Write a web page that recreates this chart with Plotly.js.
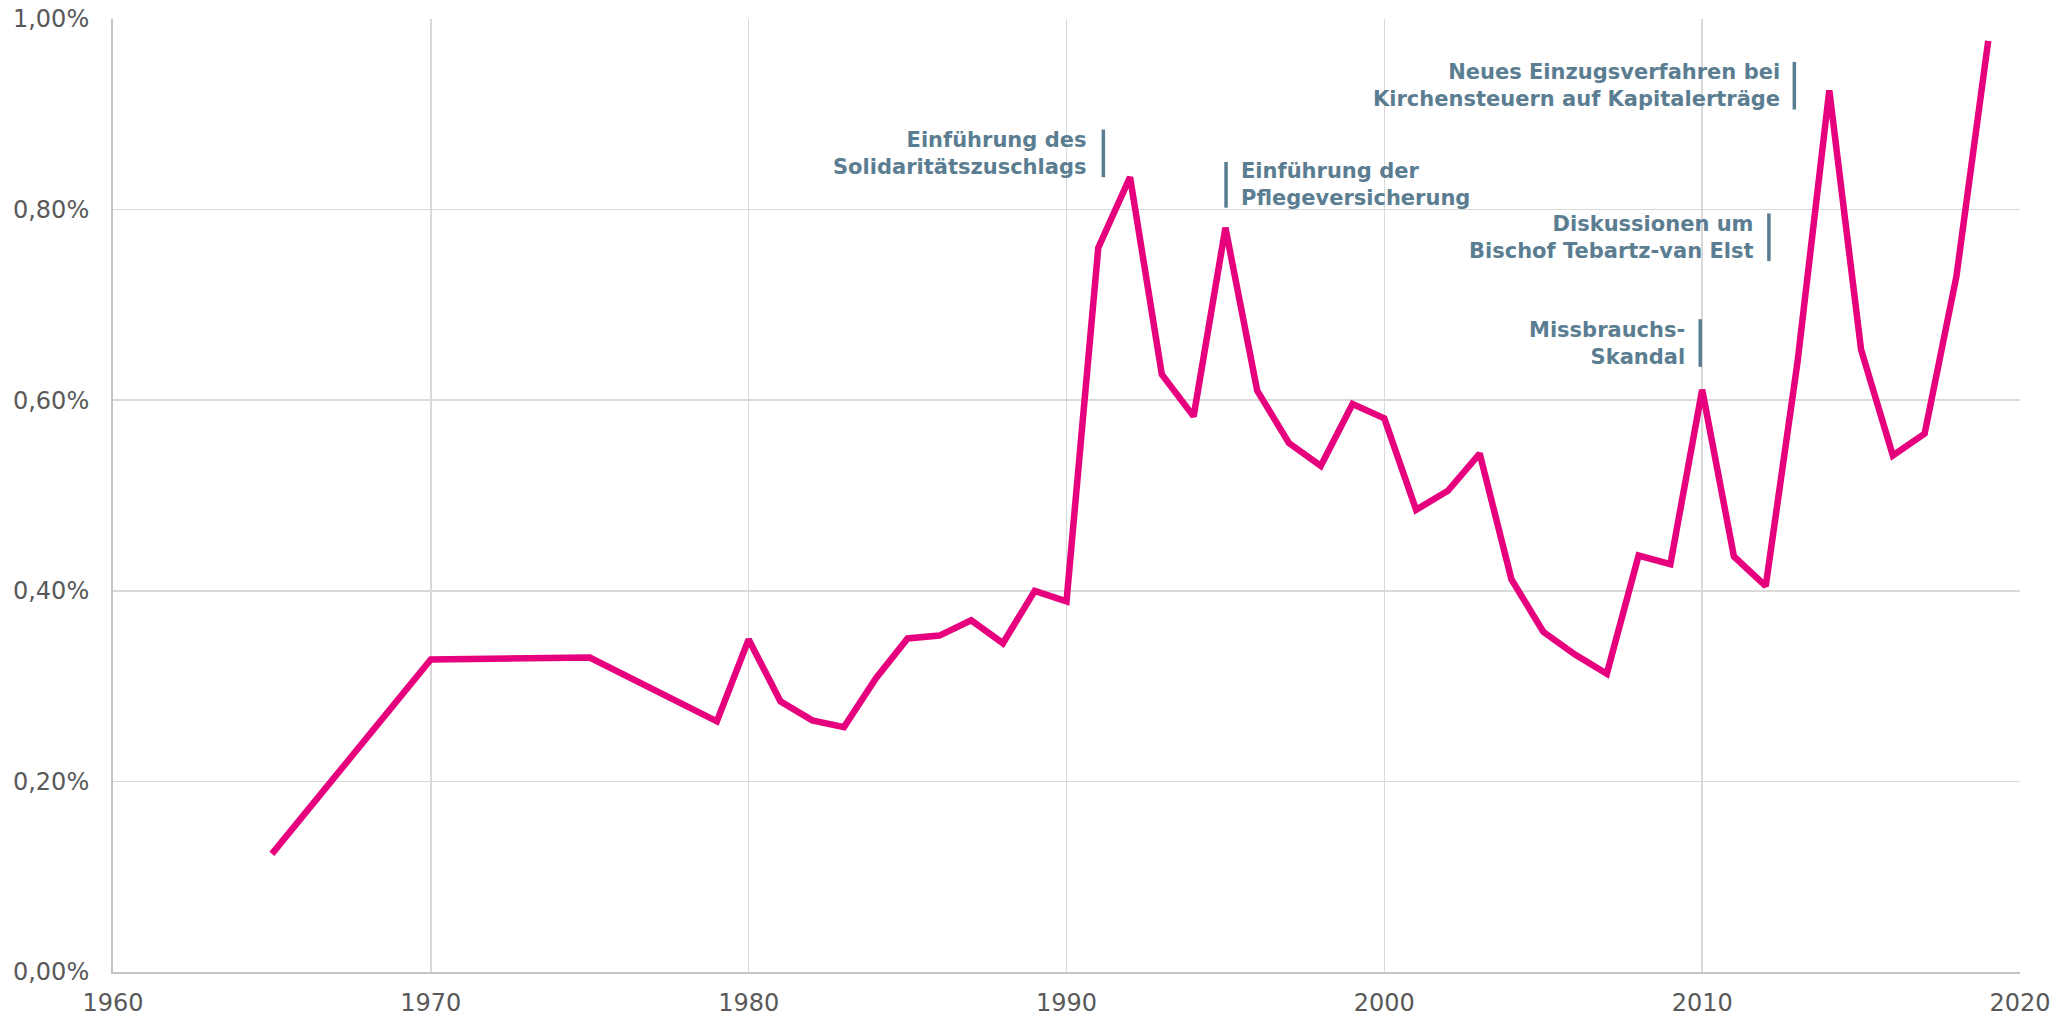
<!DOCTYPE html>
<html>
<head>
<meta charset="utf-8">
<script src="https://cdn.plot.ly/plotly-3.0.1.min.js"></script>
<style>
html,body{margin:0;padding:0;background:#fff;}
#chart{width:2062px;height:1017px;}
</style>
</head>
<body>
<div id="chart"></div>
<script>
// Data (values in percent)
const years = [1965, 1970, 1975, 1979, 1980, 1981, 1982, 1983, 1984, 1985, 1986, 1987, 1988, 1989,
  1990, 1991, 1992, 1993, 1994, 1995, 1996, 1997, 1998, 1999, 2000, 2001, 2002, 2003, 2004,
  2005, 2006, 2007, 2008, 2009, 2010, 2011, 2012, 2013, 2014, 2015, 2016, 2017, 2018, 2019];
const rates = [0.124, 0.328, 0.330, 0.263, 0.349, 0.284, 0.264, 0.257, 0.308, 0.350, 0.353, 0.369, 0.345, 0.400,
  0.389, 0.760, 0.834, 0.627, 0.583, 0.781, 0.610, 0.555, 0.531, 0.596, 0.581, 0.485, 0.505, 0.544, 0.412,
  0.357, 0.333, 0.313, 0.437, 0.428, 0.611, 0.436, 0.405, 0.640, 0.925, 0.653, 0.542, 0.565, 0.730, 0.977];
const xTicks = [1960, 1970, 1980, 1990, 2000, 2010, 2020];
const yTicks = [0, 0.2, 0.4, 0.6, 0.8, 1.0];
const eventTexts = [
  "Einführung des<br>Solidaritätszuschlags",
  "Einführung der<br>Pflegeversicherung",
  "Missbrauchs-<br>Skandal",
  "Diskussionen um<br>Bischof Tebartz-van Elst",
  "Neues Einzugsverfahren bei<br>Kirchensteuern auf Kapitalerträge"
];

// Label placement (layout only): bar x, bar bottom/top, text x, text side
const labelPos = [
  {bx: 1991.16, y0: 0.834, y1: 0.884, tx: 1990.69, side: "right"},
  {bx: 1995.02, y0: 0.802, y1: 0.850, tx: 1995.42, side: "left"},
  {bx: 2009.94, y0: 0.635, y1: 0.685, tx: 2009.53, side: "right"},
  {bx: 2012.10, y0: 0.746, y1: 0.796, tx: 2011.68, side: "right"},
  {bx: 2012.90, y0: 0.905, y1: 0.955, tx: 2012.50, side: "right"}
];

const labelColor = "#5b7d91";
const shapes = [], annotations = [];
eventTexts.forEach((t, i) => {
  const p = labelPos[i];
  shapes.push({type: "line", xref: "x", yref: "y", x0: p.bx, x1: p.bx, y0: p.y0 / 100, y1: p.y1 / 100,
    line: {color: labelColor, width: 3.5}});
  annotations.push({xref: "x", yref: "y", x: p.tx, y: (p.y0 + p.y1) / 200, text: t, showarrow: false,
    xanchor: p.side === "right" ? "right" : "left", yanchor: "middle", align: p.side,
    font: {family: "DejaVu Sans, Verdana, sans-serif", size: 21, color: labelColor, weight: "bold"}});
});

const trace = {
  x: years, y: rates.map(v => v / 100), type: "scatter", mode: "lines",
  line: {color: "#e6007e", width: 6.5, shape: "linear"},
  hoverinfo: "skip"
};

const layout = {
  width: 2062, height: 1017,
  margin: {l: 113, r: 42, t: 19, b: 45, pad: 0},
  paper_bgcolor: "#ffffff", plot_bgcolor: "#ffffff",
  separators: ",.",
  showlegend: false,
  font: {family: "DejaVu Sans, Verdana, sans-serif", color: "#595959"},
  xaxis: {
    range: [1960, 2020], tickvals: xTicks, ticktext: xTicks.map(String),
    showgrid: true, gridcolor: "#d9d9d9", gridwidth: 1.5,
    showline: true, linecolor: "#c4c4c4", linewidth: 2, mirror: false,
    ticks: "", zeroline: false, ticklabelstandoff: 8,
    tickfont: {size: 24, color: "#595959"}
  },
  yaxis: {
    range: [0, 0.01], tickvals: yTicks.map(v => v / 100), tickformat: ".2%",
    showgrid: true, gridcolor: "#d9d9d9", gridwidth: 1.5,
    showline: true, linecolor: "#c4c4c4", linewidth: 2,
    ticks: "", zeroline: false, ticklabelstandoff: 17,
    tickfont: {size: 24, color: "#595959"}
  },
  shapes: shapes,
  annotations: annotations
};

Plotly.newPlot("chart", [trace], layout, {staticPlot: true, displayModeBar: false});
</script>
</body>
</html>
